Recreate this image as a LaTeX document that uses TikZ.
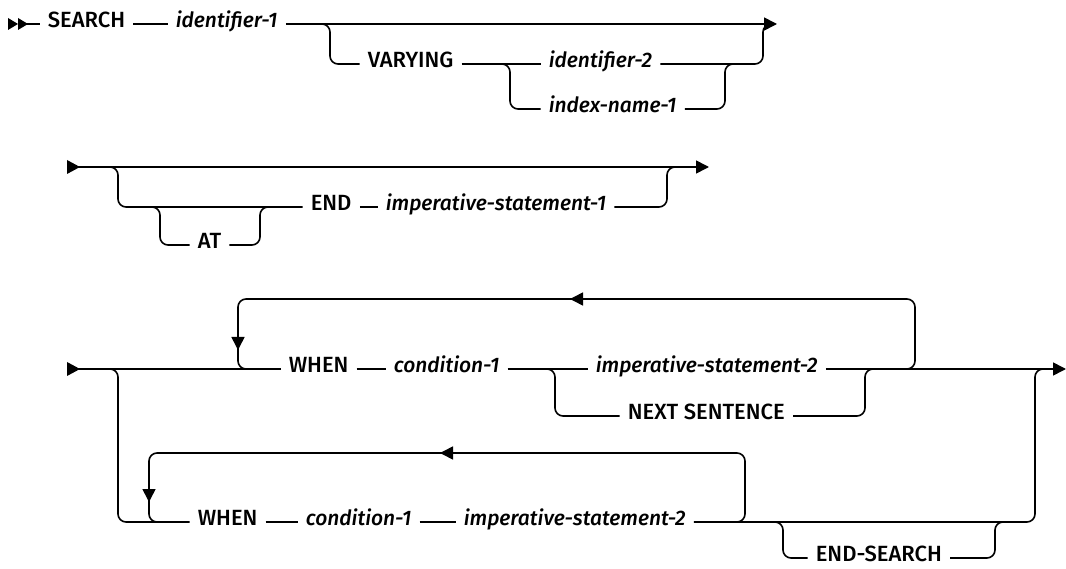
\documentclass[tikz,border=0pt]{standalone}
\usepackage{fontspec}
\setmainfont{Fira Sans}[UprightFont=* Medium, ItalicFont=* Medium Italic, BoldFont=* SemiBold]
\usetikzlibrary{arrows.meta}
\begin{document}
\begin{tikzpicture}[x=1pt,y=-1pt, line width=1.6pt,
  rr/.style={rounded corners=8pt},
  kw/.style={inner xsep=7.5pt, xshift=2.5pt, inner ysep=0pt, text height=0.69em, text depth=0pt, anchor=west, font=\fontsize{22}{26}\selectfont},
  var/.style={kw, font=\fontsize{21}{25}\selectfont\itshape},
  tip/.style={-{Triangle[length=13pt,width=13pt]}},
  mark/.style={fill=black, draw=none}
]
\useasboundingbox (0,0) rectangle (1066,569);

% ---------- Row 1 ----------
\fill (8,18)--(18,24)--(8,30)--cycle;
\fill (18,18)--(28,24)--(18,30)--cycle;
\coordinate (s1) at (18,24);
\node[kw]  (search) at (37,24) {SEARCH};
\node[var] (id1) at (165,24) {identifier-1};
\node[kw]  (vary) at (357,64) {VARYING};
\node[var] (id2) at (538,64) {identifier-2};
\node[var] (idx) at (538,109) {index-name-1};
\coordinate (e1) at (777,24);
\coordinate (b1) at (320,24);
\coordinate (b2) at (498,64);

\draw (s1) -- (search.west);
\draw (search.east) -- (id1.west);
\draw[tip] (id1.east) -- (e1);
\draw[rr] (b1) -| (330,64) -- (vary.west);
\draw (vary.east) -- (id2.west);
\draw[rr] (b2) -| (510,109) -- (idx.west);
\draw[rr] (idx.east) -| (725,64) -- (735,64);
\draw[rr] (id2.east) -| (763,24) -- (773,24);

% ---------- Row 2 ----------
\fill (67,160)--(80,167)--(67,174)--cycle;
\coordinate (s2) at (78,167);
\coordinate (e2) at (709,167);
\node[kw]  (at) at (187,245) {AT};
\node[kw]  (end) at (300,207) {END};
\node[var] (imp1) at (375,207) {imperative-statement-1};
\draw[tip] (s2) -- (e2);
\draw[rr] (108,167) -| (118,207) -- (end.west);
\draw[rr] (150,207) -| (160,245) -- (at.west);
\draw[rr] (at.east) -| (260,207) -- (270,207);
\draw (end.east) -- (imp1.west);
\draw[rr] (imp1.east) -| (667,167) -- (677,167);

% ---------- Row 3 ----------
\fill (67,362)--(80,369)--(67,376)--cycle;
\coordinate (s3) at (78,369);
\coordinate (e3) at (1066,369);
\node[kw]  (when1) at (278,369) {WHEN};
\node[var] (cond1) at (383,369) {condition-1};
\node[var] (imp2) at (585,369) {imperative-statement-2};
\node[kw]  (next) at (617,416) {NEXT SENTENCE};
\draw (s3) -- (when1.west);
\draw (when1.east) -- (cond1.west);
\draw (cond1.east) -- (imp2.west);
\draw[tip] (imp2.east) -- (e3);
\draw[rr] (545,369) -| (555,416) -- (next.west);
\draw[rr] (next.east) -| (865,369) -- (875,369);
% repeat loop
\draw[rr,tip] (903,369) -| (915,299) -- (570,299);
\draw[rr,tip] (580,299) -| (238,350);
\draw[rr] (238,345) |- (250,369);

% ---------- Row 4 ----------
\node[kw]  (when2) at (187,522) {WHEN};
\node[var] (cond2) at (295,522) {condition-1};
\node[var] (imp3) at (453,522) {imperative-statement-2};
\node[kw]  (endsearch) at (805,558) {END-SEARCH};
\draw[rr] (108,369) -| (118,522) -- (when2.west);
\draw (when2.east) -- (cond2.west);
\draw (cond2.east) -- (imp3.west);
\draw[rr] (imp3.east) -| (1035,369) -- (1045,369);
\draw[rr] (773,522) -| (783,558) -- (endsearch.west);
\draw[rr] (endsearch.east) -| (995,522) -- (1005,522);
% repeat loop
\draw[rr,tip] (733,522) -| (745,453) -- (440,453);
\draw[rr,tip] (450,453) -| (149,502);
\draw[rr] (149,497) |- (161,522);
\end{tikzpicture}
\end{document}
